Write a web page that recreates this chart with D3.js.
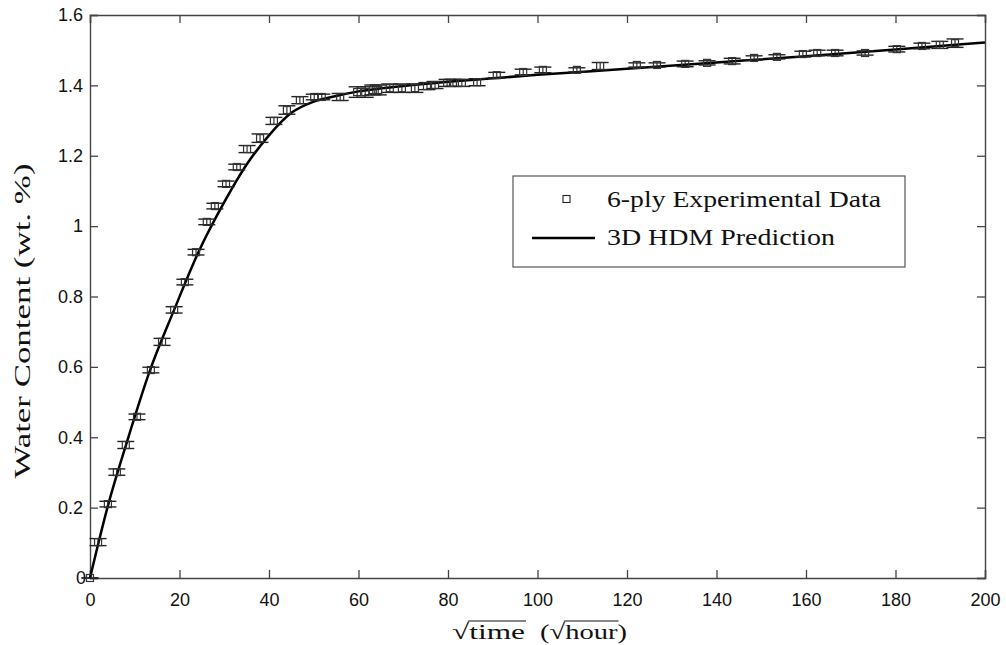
<!DOCTYPE html>
<html>
<head>
<meta charset="utf-8">
<script src="https://cdn.jsdelivr.net/npm/d3@7"></script>
<style>
  html, body { margin: 0; padding: 0; background: #fff; }
  svg { display: block; }
</style>
</head>
<body>
<svg id="chart" width="1006" height="645"></svg>
<script>
// ---- Data ----
const expX = [0, 1.8, 4.0, 6.0, 8.0, 10.5, 13.6, 16.1, 18.8, 21.2, 23.7, 26.1, 27.9, 30.4, 32.8, 35.1, 38.0, 41.1, 44.0, 46.9,
  50.1, 51.8, 55.9, 59.7, 61.5, 63.2, 64.4, 67.0, 69.7, 72.6, 75.3, 77.1, 79.8, 81.1, 83.1, 86.5, 90.9, 96.8, 101.2, 108.8,
  114.0, 122.2, 126.7, 133.0, 137.9, 143.5, 148.4, 153.5, 159.3, 162.5, 166.5, 173.2, 180.3, 185.9, 189.9, 193.3];
const expY = [0, 0.102, 0.210, 0.301, 0.378, 0.458, 0.591, 0.671, 0.762, 0.841, 0.926, 1.012, 1.057, 1.120, 1.168, 1.219, 1.250, 1.299, 1.330, 1.358,
  1.367, 1.367, 1.367, 1.381, 1.381, 1.387, 1.387, 1.392, 1.392, 1.392, 1.398, 1.401, 1.407, 1.407, 1.407, 1.409, 1.429, 1.438, 1.444, 1.444,
  1.455, 1.458, 1.458, 1.461, 1.464, 1.469, 1.478, 1.481, 1.489, 1.492, 1.492, 1.492, 1.503, 1.512, 1.515, 1.520];
const expErr = [0, 0.010, 0.008, 0.009, 0.010, 0.008, 0.008, 0.010, 0.009, 0.008, 0.008, 0.008, 0.008, 0.008, 0.008, 0.010, 0.012, 0.010, 0.012, 0.010,
  0.008, 0.008, 0.010, 0.015, 0.015, 0.014, 0.014, 0.012, 0.012, 0.012, 0.010, 0.010, 0.010, 0.010, 0.010, 0.010, 0.008, 0.008, 0.008, 0.006,
  0.010, 0.006, 0.006, 0.008, 0.006, 0.008, 0.006, 0.006, 0.008, 0.008, 0.008, 0.006, 0.008, 0.008, 0.010, 0.012];

const predX = [0, 4, 8, 13.4, 18.8, 24.2, 30, 35, 40, 45, 50, 55, 60, 70, 80, 90, 100, 120, 140, 160, 180, 200];
const predY = [0, 0.205, 0.376, 0.590, 0.762, 0.925, 1.068, 1.175, 1.258, 1.322, 1.354, 1.370, 1.383, 1.398, 1.41, 1.42, 1.43, 1.447, 1.465, 1.483, 1.502, 1.522];

const xTicks = [0, 20, 40, 60, 80, 100, 120, 140, 160, 180, 200];
const yTicks = [0, 0.2, 0.4, 0.6, 0.8, 1.0, 1.2, 1.4, 1.6];
const yTickLabels = ["0", "0.2", "0.4", "0.6", "0.8", "1", "1.2", "1.4", "1.6"];

const legendLabels = ["6-ply Experimental Data", "3D HDM Prediction"];

// ---- Layout ----
const svg = d3.select("#chart");
const L = 90, R = 985, T = 15, B = 578;
const x = d3.scaleLinear().domain([0, 200]).range([L, R]);
const y = d3.scaleLinear().domain([0, 1.6]).range([B, T]);

const axisColor = "#444";
const tickFont = "'Liberation Sans', Arial, sans-serif";
const serif = "'Liberation Serif', 'Times New Roman', serif";

// Axes (ticks inward, mirrored)
const gB = svg.append("g").attr("transform", `translate(0,${B})`)
  .call(d3.axisBottom(x).tickValues(xTicks).tickSize(-8).tickPadding(15).tickFormat(d3.format("d")));
const gT = svg.append("g").attr("transform", `translate(0,${T})`)
  .call(d3.axisTop(x).tickValues(xTicks).tickSize(-8).tickFormat(""));
const gL = svg.append("g").attr("transform", `translate(${L},0)`)
  .call(d3.axisLeft(y).tickValues(yTicks).tickSize(-8).tickPadding(15).tickFormat((d, i) => yTickLabels[i]));
const gR = svg.append("g").attr("transform", `translate(${R},0)`)
  .call(d3.axisRight(y).tickValues(yTicks).tickSize(-8).tickFormat(""));

[gB, gT, gL, gR].forEach(g => {
  g.select(".domain").attr("stroke", axisColor).attr("stroke-width", 1.4);
  g.selectAll(".tick line").attr("stroke", axisColor).attr("stroke-width", 1.3);
  g.selectAll(".tick text").attr("fill", "#111").style("font-family", tickFont).style("font-size", "18px");
});
gB.selectAll(".tick text").attr("dy", "0.71em");
gL.selectAll(".tick text").attr("x", -7);
gL.selectAll(".tick text").filter(d => d === 0).attr("x", -4);

// Prediction line
const line = d3.line().x(d => x(d[0])).y(d => y(d[1])).curve(d3.curveMonotoneX);
svg.append("path")
  .datum(predX.map((v, i) => [v, predY[i]]))
  .attr("d", line)
  .attr("fill", "none")
  .attr("stroke", "#000")
  .attr("stroke-width", 2.5);

// Experimental points with error bars
const pts = expX.map((v, i) => ({ x: v, y: expY[i], e: expErr[i] }));
const capW = 8.5, sq = 7;
const gp = svg.append("g");
const pg = gp.selectAll("g").data(pts).join("g");
pg.append("line")
  .attr("x1", d => x(d.x)).attr("x2", d => x(d.x))
  .attr("y1", d => y(d.y - d.e)).attr("y2", d => y(d.y + d.e))
  .attr("stroke", "#222").attr("stroke-width", 1.1);
pg.append("line")
  .attr("x1", d => x(d.x) - capW).attr("x2", d => x(d.x) + capW)
  .attr("y1", d => y(d.y + d.e)).attr("y2", d => y(d.y + d.e))
  .attr("stroke", "#222").attr("stroke-width", 1.4);
pg.append("line")
  .attr("x1", d => x(d.x) - capW).attr("x2", d => x(d.x) + capW)
  .attr("y1", d => y(d.y - d.e)).attr("y2", d => y(d.y - d.e))
  .attr("stroke", "#222").attr("stroke-width", 1.4);
pg.append("rect")
  .attr("x", d => x(d.x) - sq / 2).attr("y", d => y(d.y) - sq / 2)
  .attr("width", sq).attr("height", sq)
  .attr("fill", "none").attr("stroke", "#333").attr("stroke-width", 1.2);

// Legend
const lg = svg.append("g");
lg.append("rect").attr("x", 513).attr("y", 176).attr("width", 392).attr("height", 91)
  .attr("fill", "#fff").attr("stroke", "#555").attr("stroke-width", 1.2);
lg.append("rect").attr("x", 566.5 - 3.5).attr("y", 199 - 3.5).attr("width", 7).attr("height", 7)
  .attr("fill", "none").attr("stroke", "#222").attr("stroke-width", 1.1);
lg.append("line").attr("x1", 532).attr("x2", 595).attr("y1", 238).attr("y2", 238)
  .attr("stroke", "#000").attr("stroke-width", 2.5);
lg.append("text").attr("x", 607).attr("y", 207).text(legendLabels[0])
  .attr("textLength", 274).attr("lengthAdjust", "spacingAndGlyphs")
  .style("font-family", serif).style("font-size", "24px").attr("fill", "#111");
lg.append("text").attr("x", 607).attr("y", 245).text(legendLabels[1])
  .attr("textLength", 228).attr("lengthAdjust", "spacingAndGlyphs")
  .style("font-family", serif).style("font-size", "24px").attr("fill", "#111");

// Y axis label
svg.append("text")
  .attr("transform", "translate(30,321) rotate(-90)")
  .attr("text-anchor", "middle")
  .attr("textLength", 315).attr("lengthAdjust", "spacingAndGlyphs")
  .style("font-family", serif).style("font-size", "23px").attr("fill", "#111")
  .text("Water Content (wt. %)");

// X axis label with radical overlines
const baseY = 639;
function radicalText(txt, x0, len) {
  const t = svg.append("text")
    .attr("x", x0).attr("y", baseY)
    .attr("textLength", len).attr("lengthAdjust", "spacingAndGlyphs")
    .style("font-family", serif).style("font-size", "22px").attr("fill", "#111")
    .text(txt);
  const n = t.node();
  const s = txt.indexOf("\u221A") + 1;
  const e = txt.search(/[a-z](?![a-z])/);
  const x1 = n.getStartPositionOfChar(s).x;
  const x2 = n.getEndPositionOfChar(e).x;
  svg.append("line").attr("x1", x1 - 1).attr("x2", x2 + 1).attr("y1", baseY - 18).attr("y2", baseY - 18)
    .attr("stroke", "#111").attr("stroke-width", 1.2);
}
radicalText("\u221Atime", 452, 73);
radicalText("(\u221Ahour)", 540, 87);
</script>
</body>
</html>
